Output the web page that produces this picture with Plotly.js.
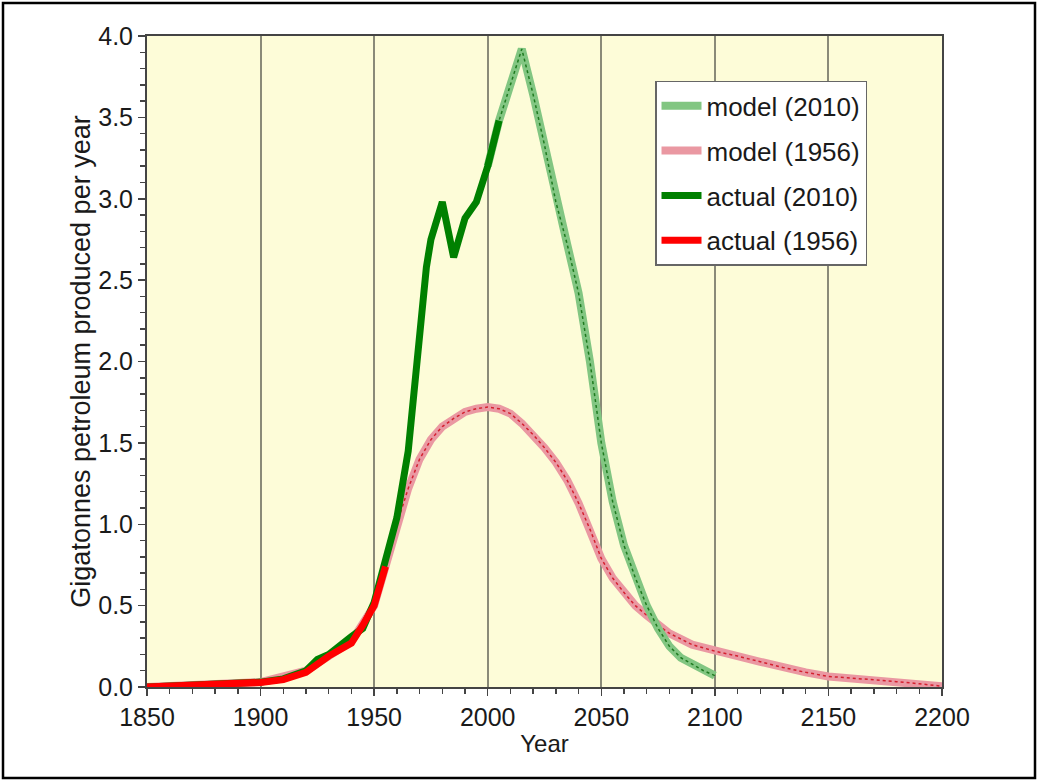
<!DOCTYPE html>
<html>
<head>
<meta charset="utf-8">
<script src="https://cdn.plot.ly/plotly-3.0.1.min.js"></script>
<style>html,body{margin:0;padding:0;background:#fff;}#chart{width:1039px;height:781px;}</style>
</head>
<body>
<div id="chart"></div>
<script>
// Actual production (history known in 2010)
const actual2010Years = [1850,1860,1870,1880,1890,1900,1910,1920,1925,1930,1940,1945,1950,1955,1960,1965,1970,1973,1975,1980,1985,1990,1995,2000,2005];
const actual2010Values = [0,0.005,0.008,0.01,0.02,0.03,0.05,0.1,0.17,0.2,0.31,0.36,0.52,0.78,1.04,1.45,2.2,2.58,2.75,2.98,2.64,2.88,2.98,3.2,3.48];
// Actual production (history known in 1956)
const actual1956Years = [1850,1860,1870,1880,1890,1900,1910,1920,1930,1940,1945,1950,1955];
const actual1956Values = [0,0.004,0.007,0.01,0.02,0.028,0.045,0.09,0.19,0.27,0.38,0.5,0.74];
// Model (2010)
const model2010Years = [2000,2005,2010,2015,2020,2025,2030,2035,2040,2045,2050,2055,2060,2065,2070,2075,2080,2085,2090,2095,2100];
const model2010Values = [3.2,3.48,3.70,3.92,3.64,3.33,2.98,2.72,2.42,2.0,1.50,1.14,0.87,0.67,0.50,0.36,0.25,0.18,0.14,0.10,0.07];
// Model (1956)
const model1956Years = [1850,1900,1920,1940,1950,1955,1960,1965,1970,1975,1980,1985,1990,1995,2000,2005,2010,2015,2020,2025,2030,2035,2040,2045,2050,2055,2060,2065,2070,2075,2080,2090,2100,2110,2120,2130,2140,2150,2160,2170,2180,2190,2200];
const model1956Values = [0,0.03,0.1,0.28,0.5,0.75,1.0,1.22,1.40,1.52,1.60,1.65,1.69,1.71,1.72,1.71,1.68,1.62,1.55,1.47,1.38,1.27,1.13,0.97,0.79,0.67,0.58,0.50,0.44,0.38,0.33,0.26,0.22,0.19,0.155,0.12,0.09,0.065,0.055,0.045,0.033,0.02,0.005];

const traces = [
  {x: model1956Years, y: model1956Values, mode:'lines', name:'model (1956)', legendrank:2, legendgroup:'b',
   line:{color:'#ea98a2', width:8}},
  {x: model1956Years, y: model1956Values, mode:'lines', showlegend:false, legendgroup:'b', hoverinfo:'skip',
   line:{color:'#d4202f', width:1.5, dash:'dot'}},
  {x: model2010Years, y: model2010Values, mode:'lines', name:'model (2010)', legendrank:1, legendgroup:'a',
   line:{color:'#82c682', width:8}},
  {x: model2010Years, y: model2010Values, mode:'lines', showlegend:false, legendgroup:'a', hoverinfo:'skip',
   line:{color:'#1f7a1f', width:1.5, dash:'dot'}},
  {x: actual2010Years, y: actual2010Values, mode:'lines', name:'actual (2010)', legendrank:3, legendgroup:'c',
   line:{color:'#008000', width:7}},
  {x: actual1956Years, y: actual1956Values, mode:'lines', name:'actual (1956)', legendrank:4, legendgroup:'d',
   line:{color:'#ff0000', width:7}}
];

const font = 'Liberation Sans, Arial, sans-serif';
const layout = {
  width:1039, height:781,
  margin:{l:147, r:97, t:36, b:94},
  paper_bgcolor:'#ffffff', plot_bgcolor:'#fdfcd8',
  font:{family:font, color:'#1a1a1a', size:25},
  showlegend:true,
  legend:{x:0.639, y:0.931, xanchor:'left', yanchor:'top', bgcolor:'#ffffff',
    bordercolor:'#666666', borderwidth:1.5, font:{family:font, size:26, color:'#1a1a1a'},
    tracegroupgap:8, itemwidth:40},
  xaxis:{range:[1850,2200], tickvals:[1850,1900,1950,2000,2050,2100,2150,2200],
    showgrid:true, gridcolor:'#8a8a78', gridwidth:2,
    showline:true, linecolor:'#444444', linewidth:2, mirror:true,
    ticks:'outside', ticklen:7, tickcolor:'#444444', tickwidth:1.5,
    minor:{dtick:10, ticks:'outside', ticklen:5, tickcolor:'#444444', showgrid:false},
    zeroline:false, tickfont:{size:25},
    title:{text:'Year', font:{size:24}, standoff:5}},
  yaxis:{range:[0,4.0], tickvals:[0,0.5,1.0,1.5,2.0,2.5,3.0,3.5,4.0], tickformat:'.1f',
    showgrid:false, showline:true, linecolor:'#444444', linewidth:2, mirror:true,
    ticks:'outside', ticklen:7, tickcolor:'#444444', tickwidth:1.5,
    minor:{dtick:0.1, ticks:'outside', ticklen:5, tickcolor:'#444444', showgrid:false},
    zeroline:false, tickfont:{size:25},
    title:{text:'Gigatonnes petroleum produced per year', font:{size:27}, standoff:0}},
  shapes:[{type:'rect', xref:'paper', yref:'paper',
    x0:(3-147)/795, x1:(1035-147)/795, y0:(687-778)/651, y1:(687-3)/651,
    line:{color:'#000000', width:2.5}, fillcolor:'rgba(0,0,0,0)', layer:'above'}]
};

Plotly.newPlot('chart', traces, layout, {displayModeBar:false, staticPlot:true});
</script>
</body>
</html>
